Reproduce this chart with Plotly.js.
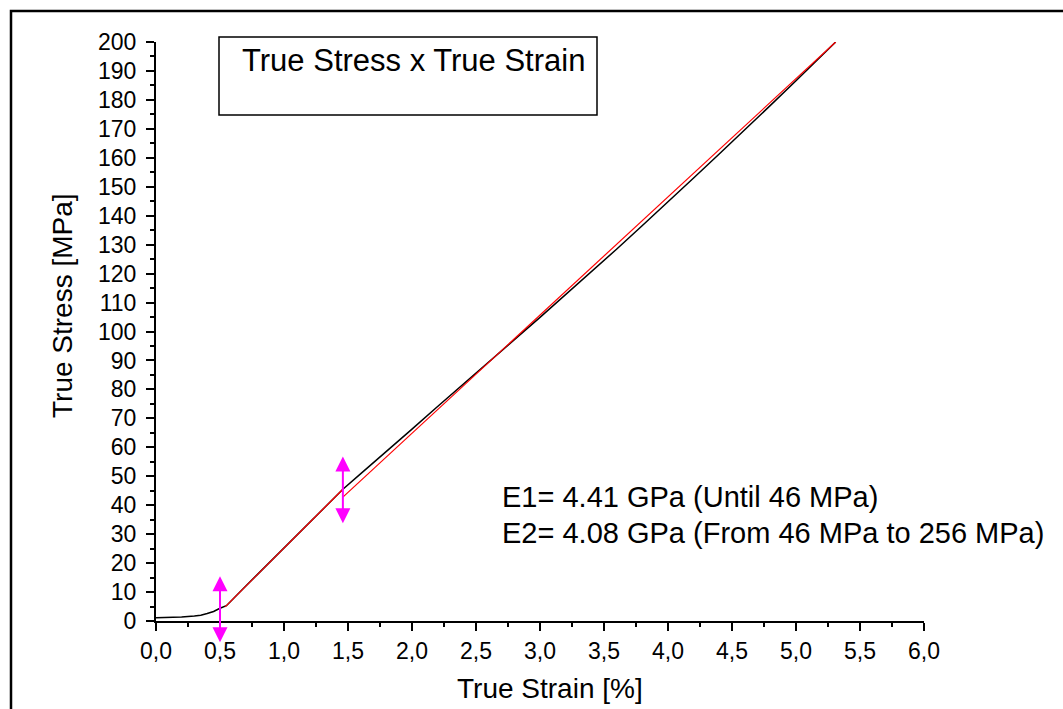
<!DOCTYPE html>
<html>
<head>
<meta charset="utf-8">
<script src="https://cdn.plot.ly/plotly-3.0.1.min.js"></script>
<style>
  html, body { margin: 0; padding: 0; background: #ffffff; }
  #chart { width: 1063px; height: 709px; }
</style>
</head>
<body>
<div id="chart"></div>
<script>
// Measured curve (True Strain [%], True Stress [MPa])
const strain = [0, 0.1, 0.2, 0.3, 0.35, 0.4, 0.45, 0.5, 0.55, 0.7, 0.9, 1.1, 1.3, 1.46,
  1.6, 1.8, 2.0, 2.2, 2.4, 2.6, 2.8, 3.0, 3.2, 3.4, 3.6, 3.8, 4.0, 4.2, 4.4, 4.6, 4.8, 5.0, 5.2, 5.31];
const stress = [1.1, 1.2, 1.4, 1.7, 2.0, 2.6, 3.3, 4.4, 5.3, 12.0, 20.8, 29.6, 38.4, 45.5,
  50.9, 58.5, 66.3, 74.1, 81.9, 89.5, 97.2, 104.9, 112.7, 120.6, 128.5, 136.6, 144.7, 153.0, 161.3, 169.6, 178.1, 186.6, 195.2, 200];

// Linear fits (E1 until 46 MPa, E2 from 46 MPa)
const fit1Strain = [0.54, 1.46];
const fit1Stress = [4.9, 45.5];
const fit2Strain = [1.46, 5.31];
const fit2Stress = [42.8, 200];

// Markers (double arrows): strain, top stress, bottom stress
const arrowStrain = [0.5, 1.46];
const arrowTop = [16, 57.3];
const arrowBottom = [-7.3, 33.8];

// Texts
const boxLabel = "True Stress x True Strain";
const noteLines = ["E1= 4.41 GPa (Until 46 MPa)", "E2= 4.08 GPa (From 46 MPa to 256 MPa)"];
const xTitle = "True Strain [%]";
const yTitle = "True Stress [MPa]";

const FONT = "Liberation Sans, Arial, sans-serif";

const traces = [
  { x: strain, y: stress, mode: "lines", type: "scatter",
    line: { color: "#000000", width: 1.5 }, hoverinfo: "skip", showlegend: false },
  { x: fit1Strain, y: fit1Stress, mode: "lines", type: "scatter",
    line: { color: "#ff0000", width: 1.2 }, hoverinfo: "skip", showlegend: false },
  { x: fit2Strain, y: fit2Stress, mode: "lines", type: "scatter",
    line: { color: "#ff0000", width: 1.2 }, hoverinfo: "skip", showlegend: false }
];

const annotations = [];
arrowStrain.forEach((xs, i) => {
  annotations.push({
    x: xs, y: arrowBottom[i], xref: "x", yref: "y",
    ax: xs, ay: arrowTop[i], axref: "x", ayref: "y",
    text: "", showarrow: true, arrowside: "end+start",
    arrowhead: 2, startarrowhead: 2, arrowsize: 1.5, startarrowsize: 1.5,
    arrowwidth: 2, arrowcolor: "#ff00ff", standoff: 0, startstandoff: 0
  });
});
annotations.push({
  x: (240 - 156) / 768, y: (621 - 60) / 579, xref: "paper", yref: "paper",
  xanchor: "left", yanchor: "middle", showarrow: false,
  text: boxLabel, font: { family: FONT, size: 31, color: "#000000" }
});
noteLines.forEach((t, i) => {
  annotations.push({
    x: (500 - 156) / 768, y: (621 - (497 + 36 * i)) / 579, xref: "paper", yref: "paper",
    xanchor: "left", yanchor: "middle", showarrow: false,
    text: t, font: { family: FONT, size: 29, color: "#000000" }
  });
});
// axis titles
annotations.push({
  x: (550 - 156) / 768, y: (621 - 689) / 579, xref: "paper", yref: "paper",
  xanchor: "center", yanchor: "middle", showarrow: false,
  text: xTitle, font: { family: FONT, size: 28, color: "#000000" }
});
annotations.push({
  x: (62 - 156) / 768, y: (621 - 306) / 579, xref: "paper", yref: "paper",
  xanchor: "center", yanchor: "middle", showarrow: false, textangle: -90,
  text: yTitle, font: { family: FONT, size: 28, color: "#000000" }
});

const shapes = [
  // legend-like box
  { type: "rect", xref: "paper", yref: "paper",
    x0: (219 - 156) / 768, x1: (597 - 156) / 768,
    y0: (621 - 115) / 579, y1: (621 - 37) / 579,
    line: { color: "#000000", width: 1.5 }, fillcolor: "rgba(0,0,0,0)" },
  // outer frame
  { type: "rect", xref: "paper", yref: "paper",
    x0: (11 - 156) / 768, x1: (1080 - 156) / 768,
    y0: (621 - 730) / 579, y1: (621 - 11) / 579,
    line: { color: "#000000", width: 2.5 }, fillcolor: "rgba(0,0,0,0)" }
];

const layout = {
  width: 1063, height: 709,
  margin: { l: 156, r: 139, t: 42, b: 88, pad: 0 },
  paper_bgcolor: "#ffffff", plot_bgcolor: "#ffffff",
  separators: ", ",
  font: { family: FONT, color: "#000000", size: 21 },
  showlegend: false,
  xaxis: {
    range: [0, 6], dtick: 0.5, tick0: 0, tickformat: ".1f",
    showgrid: false, zeroline: false,
    showline: true, linecolor: "#000000", linewidth: 2,
    ticks: "outside", ticklen: 8, tickwidth: 2, tickcolor: "#000000",
    minor: { dtick: 0.25, ticks: "outside", ticklen: 4, tickwidth: 2, tickcolor: "#000000", showgrid: false },
    tickfont: { family: FONT, size: 23, color: "#000000" },
    automargin: false
  },
  yaxis: {
    range: [0, 200], dtick: 10, tick0: 0,
    showgrid: false, zeroline: false,
    showline: true, linecolor: "#000000", linewidth: 2,
    ticks: "outside", ticklen: 8, tickwidth: 2, tickcolor: "#000000",
    minor: { dtick: 5, ticks: "outside", ticklen: 4, tickwidth: 2, tickcolor: "#000000", showgrid: false },
    tickfont: { family: FONT, size: 23, color: "#000000" },
    ticklabelstandoff: 5,
    automargin: false
  },
  annotations: annotations,
  shapes: shapes
};

Plotly.newPlot("chart", traces, layout, { displayModeBar: false, staticPlot: true });
</script>
</body>
</html>
